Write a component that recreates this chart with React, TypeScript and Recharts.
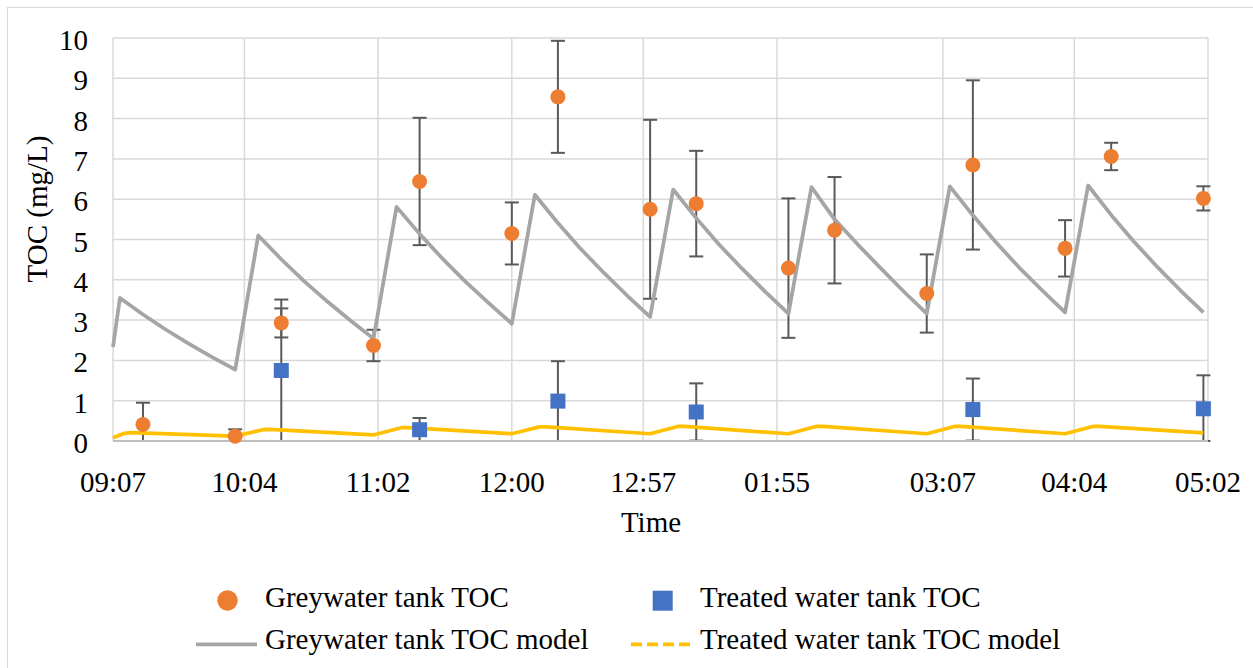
import React from 'react';
import { ComposedChart, Line, Scatter, ErrorBar, XAxis, YAxis, CartesianGrid } from 'recharts';

// x values are minutes after midnight
const tickMinutes = [547, 604, 662, 720, 777, 835, 907, 964, 1022];
const tickLabels = ['09:07', '10:04', '11:02', '12:00', '12:57', '01:55', '03:07', '04:04', '05:02'];
const yTicks = [0, 1, 2, 3, 4, 5, 6, 7, 8, 9, 10];

const greyTimes = [560, 600, 620, 660, 680, 720, 740, 780, 800, 840, 860, 900, 920, 960, 980, 1020];
const greyToc = [0.41, 0.12, 2.93, 2.37, 6.44, 5.15, 8.54, 5.75, 5.89, 4.29, 5.23, 3.66, 6.85, 4.78, 7.06, 6.02];
const greyErr = [0.54, 0.17, 0.36, 0.39, 1.58, 0.77, 1.39, 2.22, 1.31, 1.73, 1.32, 0.97, 2.1, 0.7, 0.34, 0.3];

const treatedTimes = [620, 680, 740, 800, 920, 1020];
const treatedToc = [1.75, 0.28, 0.99, 0.72, 0.78, 0.8];
const treatedErr = [1.76, 0.29, 0.99, 0.71, 0.77, 0.83];

const greyModelTimes = [
    547, 550, 560, 570, 580, 590, 600, 610, 620, 630, 640, 650, 660, 670, 680, 690, 700,
    710, 720, 730, 740, 750, 760, 770, 780, 790, 800, 810, 820, 830, 840, 850, 860, 870,
    880, 890, 900, 910, 920, 930, 940, 950, 960, 970, 980, 990, 1000, 1010, 1020,
];
const greyModel = [
    2.33, 3.55, 3.14, 2.76, 2.41, 2.08, 1.77, 5.1, 4.51, 3.96, 3.46, 2.99, 2.54, 5.81, 5.14, 4.52, 3.95,
    3.42, 2.91, 6.11, 5.41, 4.76, 4.17, 3.61, 3.08, 6.24, 5.53, 4.87, 4.27, 3.7, 3.16, 6.3, 5.5, 4.88,
    4.29, 3.71, 3.16, 6.32, 5.6, 4.93, 4.31, 3.74, 3.19, 6.34, 5.61, 4.94, 4.32, 3.74, 3.19,
];

const treatedModelTimes = [
    547, 552, 555, 600, 612, 615, 660, 672, 675, 720, 732, 735, 780, 792, 795,
    840, 852, 855, 900, 912, 915, 960, 972, 975, 1020,
];
const treatedModel = [
    0.08, 0.19, 0.21, 0.12, 0.28, 0.29, 0.15, 0.33, 0.33, 0.18, 0.35, 0.35, 0.18, 0.36, 0.36,
    0.18, 0.36, 0.36, 0.18, 0.36, 0.36, 0.18, 0.36, 0.36, 0.2,
];

const seriesNames = [
    'Greywater tank TOC',
    'Treated water tank TOC',
    'Greywater tank TOC model',
    'Treated water tank TOC model',
];

const ORANGE = '#ed7d31';
const BLUE = '#4472c4';
const GREY = '#a5a5a5';
const YELLOW = '#ffc000';
const FONT = "'Liberation Serif', Tinos, 'Times New Roman', serif";
const textStyle = { fontFamily: FONT, fontSize: 29, fill: '#000' };

// error bars are cut at the axis, like the original
const greyPoints = greyTimes.map((t, i) => ({
    t,
    v: greyToc[i],
    e: [Math.min(greyErr[i], greyToc[i]), greyErr[i]],
}));
const treatedPoints = treatedTimes.map((t, i) => ({
    t,
    v: treatedToc[i],
    e: [Math.min(treatedErr[i], treatedToc[i]), treatedErr[i]],
}));
const greyModelData = greyModelTimes.map((t, i) => ({ t, v: greyModel[i] }));
const treatedModelData = treatedModelTimes.map((t, i) => ({ t, v: treatedModel[i] }));

const XTick = ({ x, y, index }: any) => (
    <text x={x} y={y + 51} textAnchor="middle" style={textStyle}>
        {tickLabels[index]}
    </text>
);

const YTick = ({ x, y, payload }: any) => (
    <text x={x} y={y + 12} textAnchor="end" style={textStyle}>
        {payload.value}
    </text>
);

const Circle = (p: any) => <circle cx={p.cx} cy={p.cy} r={7.5} fill={ORANGE} />;
const Square = (p: any) => <rect x={p.cx - 7.5} y={p.cy - 7.5} width={15} height={15} fill={BLUE} />;

const LegendBox = () => (
    <svg width={1253} height={110} style={{ position: 'absolute', left: 0, top: 558 }}>
        <circle cx={227.5} cy={42.5} r={10.2} fill={ORANGE} />
        <text x={265} y={48.7} style={textStyle}>{seriesNames[0]}</text>
        <rect x={652.7} y={32.7} width={20} height={20} fill={BLUE} />
        <text x={700} y={48.7} style={textStyle}>{seriesNames[1]}</text>
        <line x1={196} y1={86.3} x2={257} y2={86.3} stroke={GREY} strokeWidth={3.75} />
        <text x={265} y={91.3} style={textStyle}>{seriesNames[2]}</text>
        <line x1={631} y1={86.3} x2={691} y2={86.3} stroke={YELLOW} strokeWidth={3.75} strokeDasharray="11 5" />
        <text x={700} y={91.3} style={textStyle}>{seriesNames[3]}</text>
    </svg>
);

const App: React.FC = () => {
    return (
        <div
            style={{
                position: 'absolute',
                left: 0,
                top: 0,
                width: 1253,
                height: 668,
                background: '#fff',
                overflow: 'hidden',
                fontFamily: FONT,
            }}
        >
            <div
                style={{
                    position: 'absolute',
                    left: 7,
                    top: 7,
                    width: 1300,
                    height: 700,
                    borderTop: '1px solid #d9d9d9',
                    borderLeft: '1px solid #d9d9d9',
                }}
            />
            <div style={{ position: 'absolute', left: 0, top: 0 }}>
                <ComposedChart width={1253} height={668} margin={{ top: 38, right: 45, bottom: 167, left: 0 }}>
                    <CartesianGrid stroke="#d9d9d9" strokeWidth={1.5} />
                    <XAxis
                        type="number"
                        dataKey="t"
                        domain={[547, 1022]}
                        ticks={tickMinutes}
                        interval={0}
                        height={60}
                        tickSize={0}
                        tickMargin={0}
                        tick={<XTick />}
                        axisLine={{ stroke: '#bfbfbf', strokeWidth: 2 }}
                        tickLine={false}
                        label={{
                            value: 'Time',
                            content: () => (
                                <text x={651} y={531.5} textAnchor="middle" style={textStyle}>
                                    Time
                                </text>
                            ),
                        }}
                    />
                    <YAxis
                        type="number"
                        domain={[0, 10]}
                        ticks={yTicks}
                        interval={0}
                        width={113}
                        tickSize={0}
                        tickMargin={25}
                        tick={<YTick />}
                        axisLine={false}
                        tickLine={false}
                        label={{
                            value: 'TOC (mg/L)',
                            content: () => (
                                <text
                                    x={46.5}
                                    y={209}
                                    transform="rotate(-90, 46.5, 209)"
                                    textAnchor="middle"
                                    style={textStyle}
                                >
                                    TOC (mg/L)
                                </text>
                            ),
                        }}
                    />
                    <Scatter name={seriesNames[0]} data={greyPoints} dataKey="v" shape={Circle} isAnimationActive={false}>
                        <ErrorBar dataKey="e" direction="y" width={7} stroke="#595959" strokeWidth={2} />
                    </Scatter>
                    <Scatter name={seriesNames[1]} data={treatedPoints} dataKey="v" shape={Square} isAnimationActive={false}>
                        <ErrorBar dataKey="e" direction="y" width={7} stroke="#595959" strokeWidth={2} />
                    </Scatter>
                    <Line
                        name={seriesNames[2]}
                        data={greyModelData}
                        dataKey="v"
                        type="linear"
                        stroke={GREY}
                        strokeWidth={3.75}
                        strokeLinejoin="round"
                        dot={false}
                        activeDot={false}
                        isAnimationActive={false}
                    />
                    <Line
                        name={seriesNames[3]}
                        data={treatedModelData}
                        dataKey="v"
                        type="linear"
                        stroke={YELLOW}
                        strokeWidth={3.75}
                        strokeLinejoin="round"
                        dot={false}
                        activeDot={false}
                        isAnimationActive={false}
                    />
                </ComposedChart>
            </div>
            <LegendBox />
        </div>
    );
};

export default App;
